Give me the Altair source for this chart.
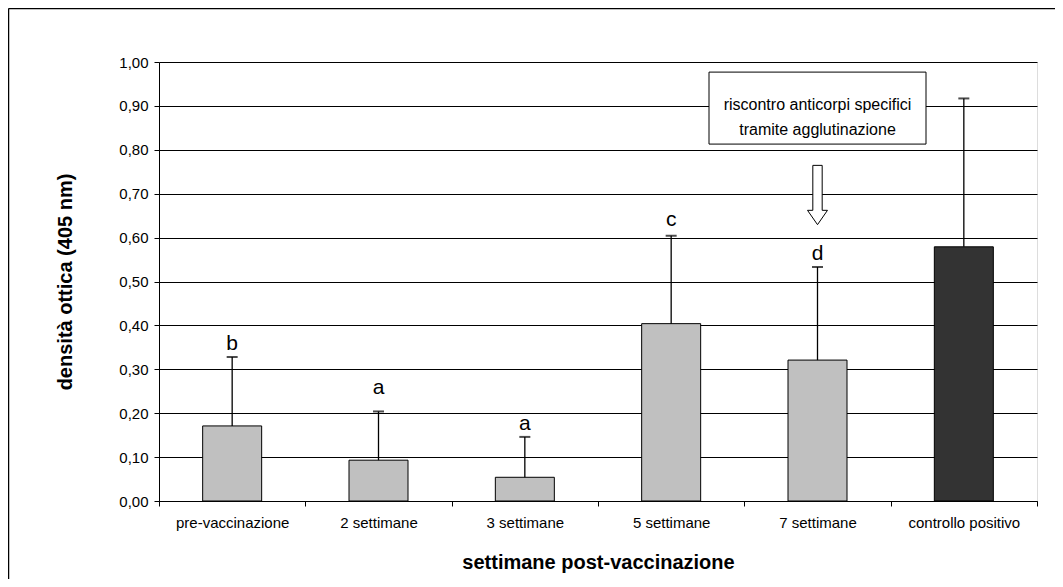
import altair as alt
import pandas as pd

# ---- data ----
categorie = ["pre-vaccinazione", "2 settimane", "3 settimane",
             "5 settimane", "7 settimane", "controllo positivo"]
medie = [0.171, 0.093, 0.054, 0.404, 0.321, 0.579]
errori = [0.157, 0.111, 0.092, 0.200, 0.212, 0.338]
gruppi = ["vaccinati", "vaccinati", "vaccinati", "vaccinati", "vaccinati", "controllo"]

lettere = ["b", "a", "a", "c", "d"]
lettere_cat = ["pre-vaccinazione", "2 settimane", "3 settimane", "5 settimane", "7 settimane"]
lettere_y = [0.345, 0.244, 0.161, 0.627, 0.548]

nota_righe = ["riscontro anticorpi specifici", "tramite agglutinazione"]
nota_righe_y = [0.901, 0.846]
nota_categoria = "7 settimane"
nota_box_basso = 0.813
nota_box_alto = 0.977
freccia_y = 0.697

y_ticks = [0.0, 0.1, 0.2, 0.3, 0.4, 0.5, 0.6, 0.7, 0.8, 0.9, 1.0]

FONT = "Liberation Sans"

df = pd.DataFrame({"cat": categorie, "media": medie, "err": errori, "gruppo": gruppi})
df["sup"] = df["media"] + df["err"]

df_let = pd.DataFrame({"cat": lettere_cat, "y": lettere_y, "t": lettere})
df_box = pd.DataFrame({"cat": [nota_categoria], "y1": [nota_box_basso], "y2": [nota_box_alto]})
df_txt = pd.DataFrame({"cat": [nota_categoria] * 2, "y": nota_righe_y, "t": nota_righe})
df_arr = pd.DataFrame({"cat": [nota_categoria], "y": [freccia_y]})

W, H = 878, 439

xenc = alt.X("cat:N", sort=categorie,
             scale=alt.Scale(paddingInner=0, paddingOuter=0),
             axis=alt.Axis(title="settimane post-vaccinazione", labelAngle=0,
                           tickBand="extent", tickSize=5, tickColor="black",
                           domainColor="black", labelPadding=9,
                           labelFont=FONT, labelFontSize=15, labelColor="black",
                           titleFont=FONT, titleFontSize=20, titleFontWeight="bold",
                           titleColor="black", titleY=61, titleBaseline="middle"))
yscale = alt.Scale(domain=[0, 1], nice=False)
yenc = alt.Y("media:Q", scale=yscale,
             axis=alt.Axis(title="densità ottica (405 nm)", values=y_ticks,
                           labelExpr="replace(format(datum.value, '.2f'), '.', ',')",
                           grid=True, gridColor="black", gridWidth=1,
                           tickSize=5, tickColor="black", domainColor="black",
                           labelPadding=6, labelFont=FONT, labelFontSize=15,
                           labelColor="black", titleFont=FONT, titleFontSize=20,
                           titleFontWeight="bold", titleColor="black",
                           titleX=-94, titleY=H / 2, titleAngle=-90,
                           titleAlign="center", titleBaseline="middle"))

xcat = alt.X("cat:N", sort=categorie)

bars = alt.Chart(df).mark_bar(size=59, stroke="black", strokeWidth=1).encode(
    x=xenc, y=yenc,
    color=alt.Color("gruppo:N", scale=alt.Scale(domain=["vaccinati", "controllo"],
                                                range=["#c0c0c0", "#333333"]),
                    legend=None))

err = alt.Chart(df).mark_rule(color="black", strokeWidth=1.3).encode(
    x=xcat, y=alt.Y("media:Q", scale=yscale), y2="sup:Q")

caps = alt.Chart(df).mark_tick(color="black", size=11, thickness=2).encode(
    x=xcat, y=alt.Y("sup:Q", scale=yscale))

lab = alt.Chart(df_let).mark_text(font=FONT, fontSize=21, baseline="alphabetic",
                                  color="black").encode(
    x=xcat, y=alt.Y("y:Q", scale=yscale), text="t:N")

box = alt.Chart(df_box).mark_bar(size=217, fill="white", stroke="black",
                                 strokeWidth=1).encode(
    x=xcat, y=alt.Y("y1:Q", scale=yscale), y2="y2:Q")

txt = alt.Chart(df_txt).mark_text(font=FONT, fontSize=16, color="black",
                                  baseline="middle").encode(
    x=xcat, y=alt.Y("y:Q", scale=yscale), text="t:N")

arrow_path = ("M-0.158,-1L0.158,-1L0.158,0.516L0.337,0.516L0,1"
              "L-0.337,0.516L-0.158,0.516Z")
arrow = alt.Chart(df_arr).mark_point(shape=arrow_path, size=3516, filled=True,
                                     fill="white", stroke="black", strokeWidth=1,
                                     opacity=1).encode(
    x=xcat, y=alt.Y("y:Q", scale=yscale))

frame_top = alt.Chart(df_box).mark_rule(color="black", strokeWidth=1.5).encode(
    x=alt.value(-150.5), x2=alt.value(W + 20), y=alt.value(-53.5))
frame_left = alt.Chart(df_box).mark_rule(color="black", strokeWidth=1.5).encode(
    x=alt.value(-150.5), y=alt.value(-53.5), y2=alt.value(H + 80))

chart = alt.layer(bars, err, caps, lab, box, txt, arrow, frame_top, frame_left).properties(
    width=W, height=H,
    autosize=alt.AutoSizeParams(type="none"),
    padding={"left": 151, "top": 54, "right": 18, "bottom": 78},
).configure_view(stroke="black", strokeWidth=1).configure(background="white")

chart.save("out.html", embed_options={"renderer": "svg", "actions": False})
